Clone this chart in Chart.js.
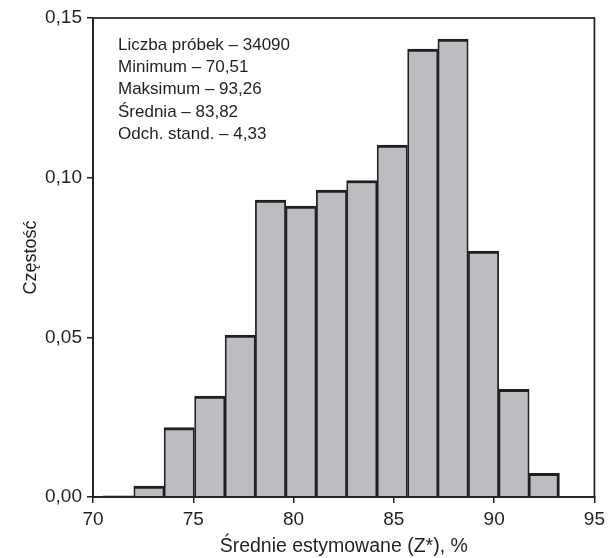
<!DOCTYPE html>
<html>
<head>
<meta charset="utf-8">
<script src="https://cdn.jsdelivr.net/npm/chart.js@4.4.1/dist/chart.umd.min.js"></script>
<style>
  html, body { margin: 0; padding: 0; background: #fff; }
  #wrap { width: 610px; height: 558px; }
</style>
</head>
<body>
<div id="wrap"><canvas id="histChart"></canvas></div>
<script>
// bin centres (Z*, %) and frequency for each bin
var binCenters = [71.27, 72.79, 74.30, 75.82, 77.34, 78.85, 80.37, 81.89, 83.40, 84.92, 86.44, 87.95, 89.47, 90.99, 92.50];
var frequencies = [0.0004, 0.0034, 0.0217, 0.0316, 0.0507, 0.0930, 0.0911, 0.0961, 0.0991, 0.1102, 0.1403, 0.1434, 0.0770, 0.0337, 0.0074];

var statsLines = [
  'Liczba próbek – 34090',
  'Minimum – 70,51',
  'Maksimum – 93,26',
  'Średnia – 83,82',
  'Odch. stand. – 4,33'
];

var xTitle = 'Średnie estymowane (Z*), %';
var yTitle = 'Częstość';

var ink = '#231f20';
var fontFam = "'Liberation Sans', Arial, sans-serif";

// box around plot + stats text
var framePlugin = {
  id: 'frame',
  afterDraw: function(chart) {
    var a = chart.chartArea;
    var ctx = chart.ctx;
    ctx.save();
    ctx.strokeStyle = ink;
    ctx.lineWidth = 1.7;
    ctx.strokeRect(a.left, a.top, a.right - a.left, a.bottom - a.top);
    ctx.fillStyle = ink;
    ctx.font = '17px ' + fontFam;
    ctx.textBaseline = 'middle';
    for (var i = 0; i < statsLines.length; i++) {
      ctx.fillText(statsLines[i], a.left + 25, a.top + 27 + i * 22.3);
    }
    ctx.restore();
  }
};

var points = [];
for (var i = 0; i < binCenters.length; i++) {
  points.push({ x: binCenters[i], y: frequencies[i] });
}

var last = binCenters.length - 1;

new Chart(document.getElementById('histChart'), {
  type: 'bar',
  data: {
    datasets: [{
      data: points,
      backgroundColor: '#bcbdc1',
      borderColor: ink,
      borderWidth: function(c) {
        return {
          top: 3,
          left: c.dataIndex === 0 ? 3 : 1.75,
          right: c.dataIndex === last ? 3 : 1.75,
          bottom: 0
        };
      },
      barPercentage: 1,
      categoryPercentage: 1
    }]
  },
  options: {
    responsive: true,
    maintainAspectRatio: false,
    animation: false,
    layout: { padding: { top: 18, right: 10, left: 0, bottom: 0 } },
    plugins: {
      legend: { display: false },
      tooltip: { enabled: false }
    },
    scales: {
      x: {
        type: 'linear',
        min: 70,
        max: 95,
        offset: false,
        grid: { offset: false, drawOnChartArea: false, drawTicks: true, tickLength: 6, color: ink, lineWidth: 1.5 },
        border: { display: true, color: ink, width: 1.7 },
        ticks: { stepSize: 5, color: ink, padding: 5, font: { family: fontFam, size: 19 }, maxRotation: 0 },
        title: { display: true, text: xTitle, color: ink, font: { family: fontFam, size: 19.5 }, padding: { top: 1, bottom: 0 } },
        afterFit: function(s) { s.height = 61; }
      },
      y: {
        min: 0,
        max: 0.15,
        grid: { drawOnChartArea: false, drawTicks: true, tickLength: 6, color: ink, lineWidth: 1.5 },
        border: { display: true, color: ink, width: 1.7 },
        ticks: {
          stepSize: 0.05,
          color: ink,
          padding: 5,
          font: { family: fontFam, size: 19 },
          callback: function(v) { return v.toFixed(2).replace('.', ','); }
        },
        title: { display: true, text: yTitle, color: ink, font: { family: fontFam, size: 18 }, padding: { top: 20, bottom: 0 } },
        afterFit: function(s) { s.width = 93; }
      }
    }
  },
  plugins: [framePlugin]
});
</script>
</body>
</html>
